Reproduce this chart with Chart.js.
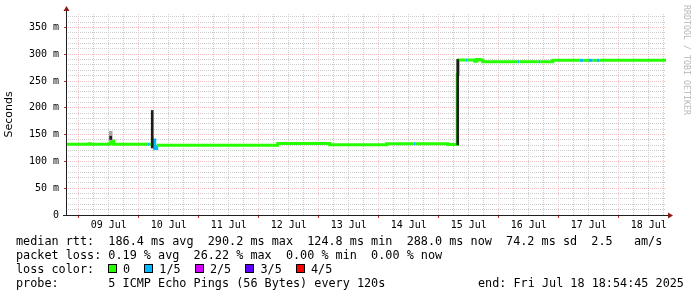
<!DOCTYPE html>
<html>
<head>
<meta charset="utf-8">
<script src="https://cdn.jsdelivr.net/npm/chart.js@4.4.0/dist/chart.umd.min.js"></script>
<style>
html,body{margin:0;padding:0;background:#fff;}
#wrap{position:relative;width:697px;height:297px;overflow:hidden;background:#fff;}
#chart{position:absolute;left:0;top:0;}
.txt{position:absolute;font-family:"DejaVu Sans Mono",monospace;font-size:11.8px;line-height:14px;white-space:pre;color:#000;}
.sq{position:absolute;width:7px;height:7px;border:1px solid #000;}
#mark{position:absolute;left:682px;top:5px;font-family:"DejaVu Sans Mono",monospace;font-size:8.3px;color:#b8b8b8;white-space:pre;transform-origin:0 0;transform:translate(10px,0) rotate(90deg);}
</style>
</head>
<body>
<div id="wrap">
<canvas id="chart" width="697" height="297"></canvas>
<div id="mark">RRDTOOL / TOBI OETIKER</div>
<div class="txt" style="left:16px;top:234px">median rtt:  186.4 ms avg  290.2 ms max  124.8 ms min  288.0 ms now  74.2 ms sd  2.5   am/s</div>
<div class="txt" style="left:16px;top:248px">packet loss: 0.19 % avg  26.22 % max  0.00 % min  0.00 % now</div>
<div class="txt" style="left:16px;top:262px">loss color:</div>
<div id="lossLegend"></div>
<div class="txt" style="left:16px;top:276px">probe:       5 ICMP Echo Pings (56 Bytes) every 120s</div>
<div class="txt" style="left:478px;top:276px">end: Fri Jul 18 18:54:45 2025</div>
</div>
<script>
// hours after 09 Jul 00:00 (each point starts a new level)
const medianHours = [-5.09, 4.2, 4.6, 12.0, 12.8, 14.0, 27.6, 28.4, 29.6, 30.4, 31.2, 79.6, 100.4, 123.2, 134.0, 134.8, 147.6, 151.4, 151.8, 154.8, 155.6, 158.4, 159.2, 160.4, 161.6, 175.6, 176.2, 184.0, 184.6, 189.6, 200.4, 202.0, 204.0, 205.6, 207.2, 208.4, 234.9];
const medianMs    = [132, 133, 132, 133, 138, 132, 132, 132, 140, 124, 130, 133.5, 131, 133, 133, 133, 131.5, 262, 289, 289, 289, 287, 290, 289, 286, 286, 286, 286, 286, 288.5, 288.5, 288.5, 288.5, 288.5, 288.5, 288.5, 288];
// lost pings out of 5
const medianLoss  = [0, 0, 0, 0, 0, 0, 1, 0, 1, 1, 0, 0, 0, 0, 1, 0, 0, 0, 0, 1, 0, 0, 0, 0, 0, 1, 0, 1, 0, 0, 1, 0, 1, 0, 1, 0, 0];

const lightSmokeHours = [12.8];
const lightSmokeLow   = [139];
const lightSmokeHigh  = [156];
const darkSmokeHours  = [12.8, 29.4, 151.6];
const darkSmokeLow    = [141, 125, 131];
const darkSmokeHigh   = [147, 195, 290];

const dayLabels  = ["09 Jul", "10 Jul", "11 Jul", "12 Jul", "13 Jul", "14 Jul", "15 Jul", "16 Jul", "17 Jul", "18 Jul"];
const lossLabels = ["0", "1/5", "2/5", "3/5", "4/5"];
const lossColors = ["#26ff00", "#00b8ff", "#d300ff", "#5e00ff", "#ff0000"];

const X_MIN = -5.09, X_MAX = 234.91;
const Y_MAX = 375;

/* loss color legend */
const legendBox = document.getElementById("lossLegend");
const CH = 7.11;
let cur = 108;
lossLabels.forEach((lab, i) => {
  const sq = document.createElement("div");
  sq.className = "sq";
  sq.style.left = cur + "px";
  sq.style.top = "264px";
  sq.style.background = lossColors[i];
  legendBox.appendChild(sq);
  const t = document.createElement("div");
  t.className = "txt";
  t.style.left = (cur + 15) + "px";
  t.style.top = "262px";
  t.textContent = lab;
  legendBox.appendChild(t);
  cur = cur + 15 + (lab.length + 2) * CH;
});

/* grid positions */
const xGrid = [];
for (let h = 0; h <= 234; h += 6) xGrid.push(h);
const yGrid = [];
for (let v = 0; v <= 370; v += 10) yGrid.push(v);

const MAJOR = "rgba(225,90,90,0.36)";
const MINOR = "#cccccc";

const axesPlugin = {
  id: "rrdAxes",
  afterDraw(chart) {
    const c = chart.ctx, a = chart.chartArea;
    c.save();
    c.strokeStyle = "#202020";
    c.lineWidth = 1;
    c.beginPath();
    c.moveTo(a.left + 0.5, a.bottom + 0.5);
    c.lineTo(a.left + 0.5, a.top - 4);
    c.moveTo(a.left - 3, a.bottom + 0.5);
    c.lineTo(a.right + 3, a.bottom + 0.5);
    c.stroke();
    c.fillStyle = "#8b1a1a";
    c.beginPath();
    c.moveTo(a.left - 2.5, a.top - 3);
    c.lineTo(a.left + 3.5, a.top - 3);
    c.lineTo(a.left + 0.5, a.top - 8);
    c.closePath();
    c.fill();
    c.beginPath();
    c.moveTo(a.right + 2, a.bottom - 2.5);
    c.lineTo(a.right + 2, a.bottom + 3.5);
    c.lineTo(a.right + 7, a.bottom + 0.5);
    c.closePath();
    c.fill();
    c.restore();
  }
};

new Chart(document.getElementById("chart"), {
  type: "line",
  data: {
    datasets: [
      {
        type: "bar",
        order: 0,
        data: darkSmokeHours.map((h, i) => ({ x: h, y: [darkSmokeLow[i], darkSmokeHigh[i]] })),
        backgroundColor: "#1e1e1e",
        barThickness: 2,
        grouped: false
      },
      {
        type: "bar",
        order: 1,
        data: lightSmokeHours.map((h, i) => ({ x: h, y: [lightSmokeLow[i], lightSmokeHigh[i]] })),
        backgroundColor: "#a8a8a8",
        barThickness: 3,
        grouped: false
      },
      {
        type: "line",
        order: 2,
        data: medianHours.map((h, i) => ({ x: h, y: medianMs[i] })),
        stepped: "before",
        borderWidth: 3,
        borderColor: lossColors[0],
        pointRadius: 0,
        fill: false,
        segment: {
          borderColor: ctx => lossColors[medianLoss[ctx.p0DataIndex]]
        }
      }
    ]
  },
  options: {
    responsive: false,
    animation: false,
    layout: { padding: { left: 0, right: 31, top: 14, bottom: 0 } },
    plugins: { legend: { display: false }, tooltip: { enabled: false } },
    scales: {
      x: {
        type: "linear",
        min: X_MIN,
        max: X_MAX,
        offset: false,
        afterBuildTicks: s => { s.ticks = xGrid.map(v => ({ value: v })); },
        afterFit: s => { s.height = 82; },
        ticks: {
          autoSkip: false,
          maxRotation: 0,
          padding: 1,
          color: "#000",
          font: { family: "DejaVu Sans Mono", size: 10 },
          callback: v => (v % 24 === 12 ? dayLabels[(v - 12) / 24] : "")
        },
        grid: {
          offset: false,
          color: c => (c.tick && c.tick.value % 24 === 0 ? MAJOR : MINOR),
          tickColor: c => (c.tick && c.tick.value % 24 === 0 ? "#c03030" : "rgba(0,0,0,0)"),
          tickLength: 3,
          lineWidth: 1
        },
        border: { display: false, dash: [1, 1] }
      },
      y: {
        min: 0,
        max: Y_MAX,
        afterBuildTicks: s => { s.ticks = yGrid.map(v => ({ value: v })); },
        afterFit: s => { s.width = 66; },
        ticks: {
          autoSkip: false,
          padding: 5,
          color: "#000",
          font: { family: "DejaVu Sans Mono", size: 10 },
          callback: v => (v % 50 === 0 ? (v === 0 ? "0" : v + " m") : "")
        },
        grid: {
          color: c => (c.tick && c.tick.value % 50 === 0 ? MAJOR : MINOR),
          tickColor: c => (c.tick && c.tick.value % 50 === 0 ? "#c03030" : "rgba(0,0,0,0)"),
          tickLength: 2,
          lineWidth: 1
        },
        border: { display: false, dash: [1, 1] },
        title: {
          display: true,
          text: "Seconds",
          color: "#000",
          font: { family: "DejaVu Sans", size: 11 },
          padding: { top: 3, bottom: 0 }
        }
      }
    }
  },
  plugins: [axesPlugin]
});
</script>
</body>
</html>
